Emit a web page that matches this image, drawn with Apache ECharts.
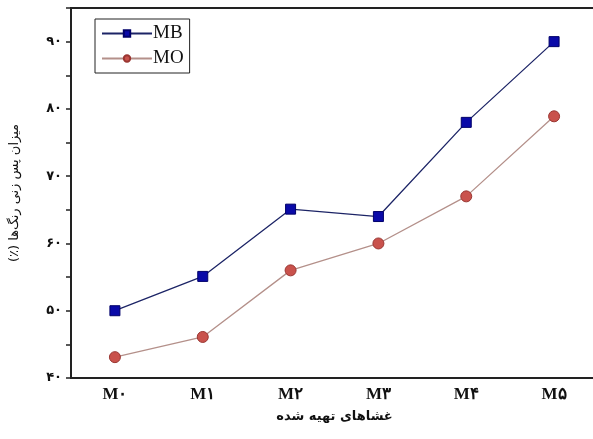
<!DOCTYPE html>
<html><head><meta charset="utf-8">
<script src="https://cdn.jsdelivr.net/npm/echarts@6/dist/echarts.min.js"></script>
<style>html,body{margin:0;padding:0;background:#fff}#c{width:593px;height:439px}</style>
</head><body><div id="c"></div>
<script>
const categories = ['M۰','M۱','M۲','M۳','M۴','M۵'];
const mbValues = [50, 55.1, 65.1, 64.0, 78.0, 90.0];
const moValues = [43.1, 46.1, 56.0, 60.0, 67.0, 78.9];
const yTickLabels = {40:'۴۰',50:'۵۰',60:'۶۰',70:'۷۰',80:'۸۰',90:'۹۰'};
const xTitle = 'غشاهای تهیه شده';
const yTitle = '\u202Bمیزان پس زنی رنگ‌ها (٪)\u202C';

const chart = echarts.init(document.getElementById('c'));
chart.setOption({
  animation: false,
  backgroundColor: '#fff',
  grid: { left: 71, top: 8, width: 527, bottom: 61, show: true, borderColor: '#222', borderWidth: 2,
    outerBoundsMode: 'none', containLabel: false },
  legend: {
    left: 95, top: 19, orient: 'vertical', itemWidth: 50, itemHeight: 8, itemGap: 6,
    padding: [5, 6, 5, 6],
    borderColor: '#222', borderWidth: 1,
    textStyle: { fontFamily: 'Liberation Serif', fontSize: 19, color: '#111', padding: [0,0,0,-4] },
    data: ['MB', 'MO']
  },
  xAxis: {
    type: 'category', data: categories, boundaryGap: true,
    name: xTitle, nameLocation: 'middle', nameGap: 32,
    nameTextStyle: { fontFamily: 'DejaVu Sans', fontSize: 13, fontWeight: 'bold', color: '#111' },
    axisLine: { lineStyle: { color: '#222', width: 2 } },
    axisTick: { alignWithLabel: true, length: 5, lineStyle: { color: '#222', width: 1.5 } },
    axisLabel: { fontFamily: 'Liberation Serif', fontSize: 17, fontWeight: 'bold', color: '#111', margin: 8 },
    splitLine: { show: false }
  },
  yAxis: {
    type: 'value', min: 40, max: 95, interval: 10,
    name: yTitle, nameLocation: 'middle', nameGap: 50, nameRotate: 90,
    nameTextStyle: { fontFamily: 'DejaVu Sans', fontSize: 13, color: '#111' },
    axisLine: { show: true, lineStyle: { color: '#222', width: 2 } },
    axisTick: { show: true, length: 5, lineStyle: { color: '#222', width: 1.5 } },
    minorTick: { show: true, splitNumber: 2, length: 5, lineStyle: { color: '#222', width: 1.5 } },
    axisLabel: { fontFamily: 'DejaVu Sans', fontSize: 13, fontWeight: 'bold', color: '#111', margin: 9,
      formatter: v => yTickLabels[v] || '' },
    splitLine: { show: false }
  },
  series: [
    { name: 'MB', type: 'line', data: mbValues, symbol: 'rect', symbolSize: 10,
      lineStyle: { color: '#1c2466', width: 1.3 },
      itemStyle: { color: '#0a0aa8', borderColor: '#00006a', borderWidth: 1 } },
    { name: 'MO', type: 'line', data: moValues, symbol: 'circle', symbolSize: 11,
      lineStyle: { color: '#b4908a', width: 1.3 },
      itemStyle: { color: '#c9524c', borderColor: '#9a3632', borderWidth: 1 } }
  ]
});
</script></body></html>
